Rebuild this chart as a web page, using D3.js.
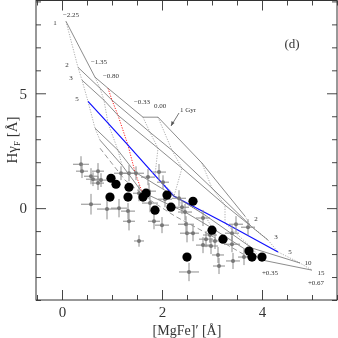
<!DOCTYPE html>
<html>
<head>
<meta charset="utf-8">
<script src="https://cdn.jsdelivr.net/npm/d3@7"></script>
<style>
  body { margin: 0; background: #fff; }
  svg { display: block; }
  text { font-family: "Liberation Serif", "DejaVu Serif", serif; fill: #333; }
  .txt { opacity: 0.99; will-change: transform; }
</style>
</head>
<body>
<script>
"use strict";

// model grid: one row per age, one value per metallicity
var ages = [1, 2, 3, 5, 10, 15];
var metals = ["\u22122.25", "\u22121.35", "\u22120.80", "\u22120.33", "0.00", "+0.35", "+0.67"];
var gridMgFe = [
  [0.08, 0.66, 0.92, 1.62, 1.92, 2.80, 3.66],
  [0.32, 0.76, 1.00, 1.76, 2.20, 3.00, 3.76],
  [0.40, 0.84, 1.12, 1.92, 2.40, 3.26, 4.12],
  [0.52, 0.92, 1.32, 1.86, 2.24, 3.26, 4.32],
  [0.66, 1.12, 1.46, 2.32, 2.86, 3.80, 4.76],
  [0.76, 1.20, 1.60, 2.46, 3.00, 4.00, 5.00]
];
var gridHg = [
  [8.13, 5.70, 5.22, 3.96, 3.96, 1.96, -0.35],
  [6.13, 5.22, 4.70, 3.30, 2.52, 0.87, -0.74],
  [5.57, 4.70, 4.04, 2.61, 1.74, 0.13, -1.39],
  [4.65, 3.70, 2.74, 1.43, 0.52, -0.65, -1.91],
  [3.48, 2.52, 1.57, 0.43, -0.30, -1.74, -2.39],
  [2.96, 1.87, 0.70, -0.17, -0.87, -2.26, -2.70]
];
// extra dashed model track
var dashMgFe = [0.76, 1.26, 1.76, 2.26, 2.96, 3.76];
var dashHg = [2.61, 1.22, 0.35, -0.35, -1.17, -2.17];

// galaxies with error bars
var galMgFe = [0.38, 0.40, 0.58, 0.62, 0.72, 0.78, 0.72, 0.58, 0.90, 1.14, 1.32, 1.34, 1.18, 1.34, 1.48, 1.54,
  1.72, 1.76, 1.74, 1.84, 2.00, 1.94, 2.02, 2.06, 1.54, 2.34, 2.82, 2.48, 2.50, 2.62, 2.88, 2.82,
  2.98, 3.06, 3.40, 3.40, 3.12, 3.14, 3.42, 3.48, 3.72, 3.64, 2.54, 2.46, 2.40, 2.96];
var galHg = [1.91, 1.61, 1.39, 1.26, 1.61, 1.22, 1.09, 0.17, -0.04, 0.00, -0.13, -0.57, 1.52, 1.52, 1.52, 0.65,
  1.35, 0.22, 0.74, -0.57, -0.74, 1.57, 1.13, 0.39, -1.43, 0.43, -0.43, -0.70, -1.09, -1.09, -1.35, -1.61,
  -1.65, -1.43, -1.57, -1.09, -2.04, -2.52, -2.30, -0.70, -0.83, -2.13, -2.78, -0.17, 0.04, -1.17];
var galMgFeErr = [0.16, 0.12, 0.14, 0.14, 0.12, 0.14, 0.12, 0.2, 0.2, 0.16, 0.14, 0.12, 0.14, 0.14, 0.16, 0.12,
  0.14, 0.16, 0.14, 0.12, 0.14, 0.14, 0.12, 0.14, 0.1, 0.14, 0.14, 0.16, 0.14, 0.12, 0.14, 0.14,
  0.14, 0.12, 0.16, 0.14, 0.12, 0.12, 0.14, 0.14, 0.14, 0.12, 0.2, 0.14, 0.14, 0.14];
var galHgErr = [0.35, 0.3, 0.35, 0.3, 0.35, 0.3, 0.3, 0.45, 0.45, 0.4, 0.35, 0.4, 0.3, 0.35, 0.3, 0.35,
  0.35, 0.4, 0.35, 0.35, 0.35, 0.35, 0.3, 0.35, 0.25, 0.35, 0.35, 0.35, 0.4, 0.35, 0.35, 0.35,
  0.35, 0.35, 0.35, 0.35, 0.35, 0.35, 0.35, 0.35, 0.35, 0.35, 0.4, 0.35, 0.3, 0.35];

// filled circles
var dotMgFe = [0.98, 1.08, 1.34, 0.96, 1.32, 1.62, 1.68, 1.86, 2.10, 2.18, 2.62, 3.00, 3.22, 3.74, 3.80, 4.00, 2.50];
var dotHg = [1.30, 1.04, 0.91, 0.48, 0.48, 0.48, 0.65, -0.09, 0.57, 0.04, 0.30, -0.96, -1.35, -1.87, -2.13, -2.13, -2.13];

var xMajor = [0, 2, 4];
var yMajor = [0, 5];

var width = 338, height = 338;
var x = d3.scaleLinear().domain([-0.52, 5.5]).range([36, 337]);
var y = d3.scaleLinear().domain([-4, 9.04]).range([300, 0.5]);

var svg = d3.select("body").append("svg")
  .attr("width", width)
  .attr("height", height);

var line = d3.line()
  .x(function(d) { return x(d[0]); })
  .y(function(d) { return y(d[1]); });

var plot = svg.append("g");

// iso-metallicity (dotted), the -0.80 one in red
for (var j = 0; j < metals.length; j++) {
  var col = [];
  for (var i = 0; i < ages.length; i++) col.push([gridMgFe[i][j], gridHg[i][j]]);
  plot.append("path")
    .attr("d", line(col))
    .attr("fill", "none")
    .attr("stroke", j == 2 ? "#ff2020" : "#8a8a8a")
    .attr("stroke-width", j == 2 ? 1 : 0.7)
    .attr("stroke-dasharray", "1.2,1.4");
}

// iso-age (solid), the 5 Gyr one in blue
for (var i = 0; i < ages.length; i++) {
  var row = gridMgFe[i].map(function(v, k) { return [v, gridHg[i][k]]; });
  plot.append("path")
    .attr("d", line(row))
    .attr("fill", "none")
    .attr("stroke", ages[i] == 5 ? "#1010ff" : "#666")
    .attr("stroke-width", ages[i] == 5 ? 1.2 : 0.75);
}

plot.append("path")
  .attr("d", line(dashMgFe.map(function(v, k) { return [v, dashHg[k]]; })))
  .attr("fill", "none")
  .attr("stroke", "#777")
  .attr("stroke-width", 0.75)
  .attr("stroke-dasharray", "5,3");

// galaxies with error bars
for (var k = 0; k < galMgFe.length; k++) {
  var cx = x(galMgFe[k]), cy = y(galHg[k]);
  plot.append("line")
    .attr("x1", x(galMgFe[k] - galMgFeErr[k])).attr("x2", x(galMgFe[k] + galMgFeErr[k]))
    .attr("y1", cy).attr("y2", cy)
    .attr("stroke", "#8c8c8c").attr("stroke-width", 1);
  plot.append("line")
    .attr("x1", cx).attr("x2", cx)
    .attr("y1", y(galHg[k] - galHgErr[k])).attr("y2", y(galHg[k] + galHgErr[k]))
    .attr("stroke", "#8c8c8c").attr("stroke-width", 1);
  plot.append("circle")
    .attr("cx", cx).attr("cy", cy).attr("r", 2)
    .attr("fill", "#777");
}

for (var k = 0; k < dotMgFe.length; k++) {
  plot.append("circle")
    .attr("cx", x(dotMgFe[k]))
    .attr("cy", y(dotHg[k]))
    .attr("r", 4.6)
    .attr("fill", "#000");
}

// grid labels
var labels = svg.append("g").attr("class", "txt");
function label(txt, px, py, size, anchor) {
  labels.append("text")
    .attr("x", px).attr("y", py)
    .attr("font-size", size)
    .attr("text-anchor", anchor || "middle")
    .attr("dominant-baseline", "middle")
    .text(txt);
}
// metallicity labels near the 1 Gyr end
label(metals[0], x(gridMgFe[0][0]) + 5, y(gridHg[0][0]) - 6, 7);
label(metals[1], x(gridMgFe[0][1]) + 4, y(gridHg[0][1]) - 15, 7);
label(metals[2], x(gridMgFe[0][2]) + 3, y(gridHg[0][2]) - 12, 7);
label(metals[3], x(gridMgFe[0][3]) - 1, y(gridHg[0][3]) - 15, 7);
label(metals[4], x(gridMgFe[0][4]) + 2, y(gridHg[0][4]) - 11, 7);
label(metals[5], x(gridMgFe[5][5]) + 8, y(gridHg[5][5]) + 13, 7);
label(metals[6], x(gridMgFe[5][6]) + 4, y(gridHg[5][6]) + 13, 7);
// age labels
label(ages[0], x(gridMgFe[0][0]) - 11, y(gridHg[0][0]) + 2, 7);
for (var i = 1; i < 4; i++) {
  label(ages[i], x(gridMgFe[i][0]) - 11, y(gridHg[i][0]) - 2, 7);
}
var rightOff = [[0, 0], [6, -6], [8, -3], [12, 0], [8, 0], [9, 3]];
for (var i = 1; i < ages.length; i++) {
  label(ages[i], x(gridMgFe[i][6]) + rightOff[i][0], y(gridHg[i][6]) + rightOff[i][1], 7);
}
label("1 Gyr", 180, 110, 7, "start");
svg.append("line")
  .attr("x1", 179).attr("y1", 113)
  .attr("x2", 171).attr("y2", 126)
  .attr("stroke", "#555").attr("stroke-width", 0.8);
svg.append("path")
  .attr("d", "M171,126 L171.5,121 L174.5,123 Z")
  .attr("fill", "#555");
label("(d)", 292, 45, 13);

// axes with inward ticks on all four sides
var xMinor = d3.range(-0.5, 5.51, 0.5).filter(function(v) { return xMajor.indexOf(v) < 0; });
var yMinor = d3.range(-4, 9.01, 1).filter(function(v) { return yMajor.indexOf(v) < 0; });

function axisStyle(g) {
  g.attr("class", "txt");
  g.select(".domain").remove();
  g.selectAll(".tick line").attr("stroke", "#444");
  g.selectAll(".tick text").attr("font-size", 15).attr("fill", "#333");
}

svg.append("g").attr("transform", "translate(0,300)")
  .call(d3.axisBottom(x).tickValues(xMajor).tickSize(-10).tickPadding(6).tickFormat(d3.format("d")))
  .call(axisStyle);
svg.append("g").attr("transform", "translate(0,300)")
  .call(d3.axisBottom(x).tickValues(xMinor).tickSize(-5).tickFormat(""))
  .call(axisStyle);
svg.append("g").attr("transform", "translate(0,0.5)")
  .call(d3.axisTop(x).tickValues(xMajor).tickSize(-10).tickFormat(""))
  .call(axisStyle);
svg.append("g").attr("transform", "translate(0,0.5)")
  .call(d3.axisTop(x).tickValues(xMinor).tickSize(-5).tickFormat(""))
  .call(axisStyle);
svg.append("g").attr("transform", "translate(36,0)")
  .call(d3.axisLeft(y).tickValues(yMajor).tickSize(-10).tickPadding(9).tickFormat(d3.format("d")))
  .call(axisStyle);
svg.append("g").attr("transform", "translate(36,0)")
  .call(d3.axisLeft(y).tickValues(yMinor).tickSize(-5).tickFormat(""))
  .call(axisStyle);
svg.append("g").attr("transform", "translate(337,0)")
  .call(d3.axisRight(y).tickValues(yMajor).tickSize(-10).tickFormat(""))
  .call(axisStyle);
svg.append("g").attr("transform", "translate(337,0)")
  .call(d3.axisRight(y).tickValues(yMinor).tickSize(-5).tickFormat(""))
  .call(axisStyle);

svg.append("rect")
  .attr("x", 36).attr("y", 0.5)
  .attr("width", 301).attr("height", 299.5)
  .attr("fill", "none")
  .attr("stroke", "#333")
  .attr("stroke-width", 1);

// axis titles
labels.append("text")
  .attr("x", 187).attr("y", 335)
  .attr("text-anchor", "middle")
  .attr("font-size", 14)
  .text("[MgFe]\u2032 [\u00c5]");

var yt = labels.append("text")
  .attr("transform", "translate(17,140) rotate(-90)")
  .attr("text-anchor", "middle")
  .attr("font-size", 15);
yt.append("tspan").text("H\u03b3");
yt.append("tspan").attr("font-size", 9).attr("dy", 3).text("F");
yt.append("tspan").attr("dy", -3).text(" [\u00c5]");
</script>
</body>
</html>
